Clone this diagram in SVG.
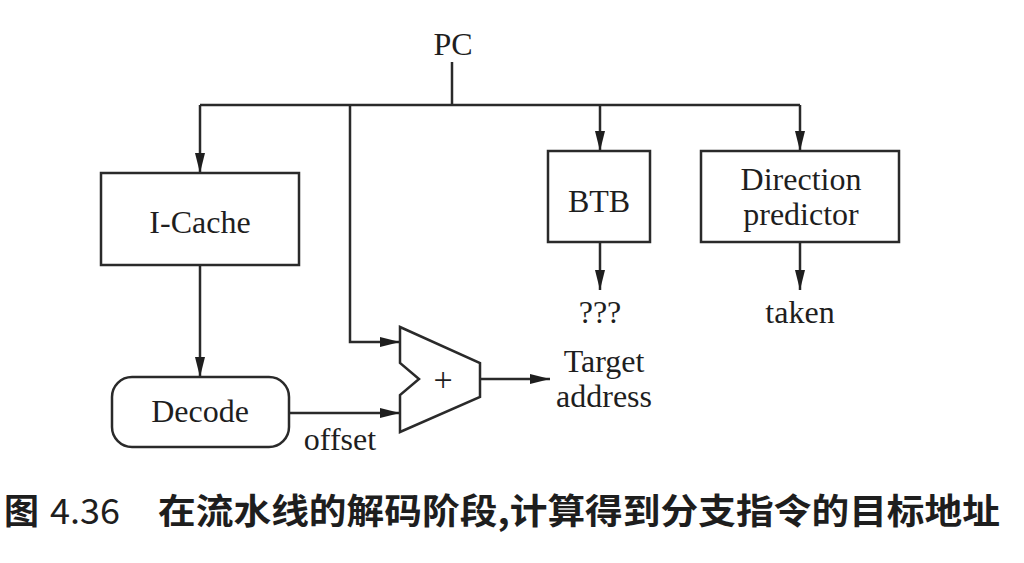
<svg xmlns="http://www.w3.org/2000/svg" width="1024" height="563" viewBox="0 0 1024 563">
<style>
.ln{fill:none;stroke:#2a2a2a;stroke-width:2.5}
.bx{fill:#fff;stroke:#2a2a2a;stroke-width:2.5}
.t{font-family:"Liberation Serif","Times New Roman",serif;font-size:32px;fill:#1e1e1e;text-anchor:middle}
.plus{font-size:34px}
.cap{font-family:"Noto Sans CJK SC","Noto Sans CJK JP",sans-serif;font-size:35px;font-weight:bold;fill:#1e1e1e}
</style>
<defs>
<marker id="ah" markerUnits="userSpaceOnUse" markerWidth="22" markerHeight="11" refX="20" refY="5" orient="auto">
<path d="M0,0 L20,5 L0,10 z" fill="#1e1e1e"/>
</marker>
</defs>
<rect width="1024" height="563" fill="#fff"/>
<g id="connectors">
<path class="ln" d="M452,62 V105"/>
<path class="ln" d="M200,105 H800"/>
<path class="ln" d="M200,105 V173" marker-end="url(#ah)"/>
<path class="ln" d="M600,105 V151" marker-end="url(#ah)"/>
<path class="ln" d="M800,105 V151" marker-end="url(#ah)"/>
<path class="ln" d="M350,105 V342 H400" marker-end="url(#ah)"/>
<path class="ln" d="M200,265 V377" marker-end="url(#ah)"/>
<path class="ln" d="M289,413 H400" marker-end="url(#ah)"/>
<path class="ln" d="M600,242 V290" marker-end="url(#ah)"/>
<path class="ln" d="M800,242 V290" marker-end="url(#ah)"/>
<path class="ln" d="M480,379 H550" marker-end="url(#ah)"/>
</g>
<g id="pc"><text class="t" x="453" y="55">PC</text></g>
<g id="icache">
<rect class="bx" x="101" y="173" width="198" height="92"/>
<text class="t" x="200" y="233">I-Cache</text>
</g>
<g id="btb">
<rect class="bx" x="548" y="151" width="102" height="91"/>
<text class="t" x="599" y="212">BTB</text>
</g>
<g id="direction">
<rect class="bx" x="701" y="151" width="198" height="91"/>
<text class="t" x="801" y="190">Direction</text>
<text class="t" x="801" y="225">predictor</text>
</g>
<g id="decode">
<rect class="bx" x="112" y="377" width="177" height="70" rx="20" ry="20"/>
<text class="t" x="200" y="422">Decode</text>
</g>
<g id="adder">
<polygon class="bx" points="400,327 480,363 480,397 400,432 400,395 419,379 400,363"/>
<text class="t plus" x="443" y="391">+</text>
</g>
<g id="labels">
<text class="t" x="600" y="323">???</text>
<text class="t" x="800" y="323">taken</text>
<text class="t" x="340" y="450">offset</text>
<text class="t" x="604" y="372">Target</text>
<text class="t" x="604" y="407">address</text>
</g>
<g id="caption">
<text class="cap" x="4" y="524">图</text>
<text class="cap" x="50" y="524" textLength="70" lengthAdjust="spacingAndGlyphs" style="font-weight:normal">4.36</text>
<text class="cap" x="158" y="524" textLength="842" lengthAdjust="spacingAndGlyphs">在流水线的解码阶段,计算得到分支指令的目标地址</text>
</g>
</svg>
